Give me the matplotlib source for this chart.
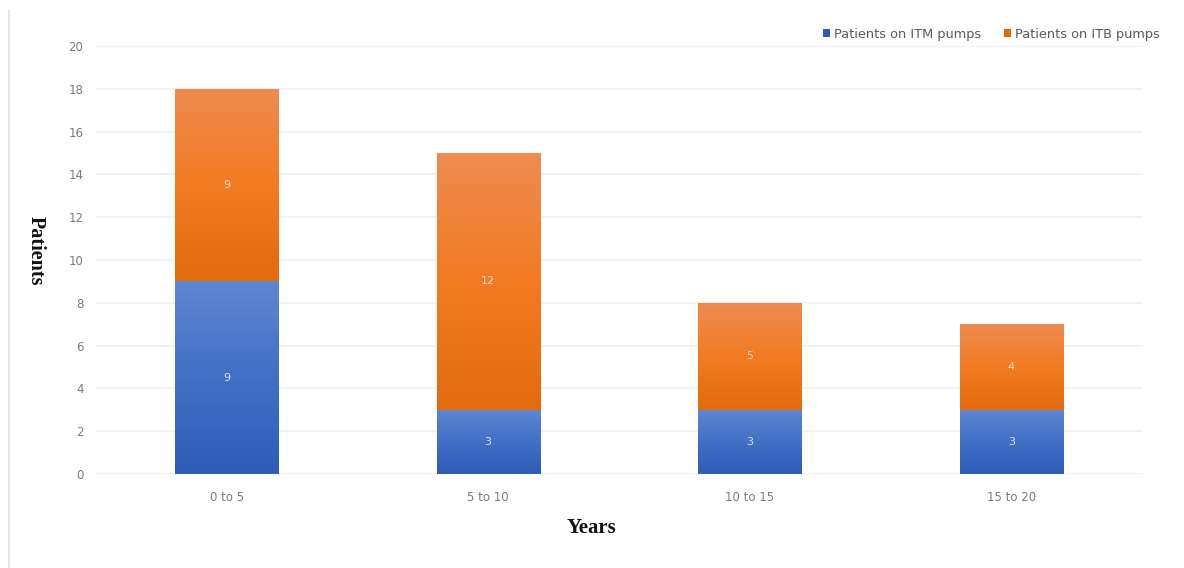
import numpy as np
import matplotlib.pyplot as plt
from matplotlib.colors import LinearSegmentedColormap
from matplotlib.lines import Line2D

# --- DATA ---
years = ['0 to 5', '5 to 10', '10 to 15', '15 to 20']
itm_pumps = [9, 3, 3, 3]
itb_pumps = [9, 12, 5, 4]
y_ticks = [0, 2, 4, 6, 8, 10, 12, 14, 16, 18, 20]

blue_stops = ['#2E5CB6', '#4270C6', '#5F86D0']
orange_stops = ['#E36B0E', '#F27B22', '#EE8B51']

fig = plt.figure(figsize=(11.84, 5.68), dpi=100)
ax = fig.add_axes([0.081, 0.1655, 0.8835, 0.7535])

x = np.arange(len(years))
width = 0.395


def gradient_fill(bars, stops):
    cmap = LinearSegmentedColormap.from_list('g', stops)
    grad = np.linspace(0, 1, 256).reshape(-1, 1)
    for b in bars:
        x0, y0 = b.get_x(), b.get_y()
        w, h = b.get_width(), b.get_height()
        im = ax.imshow(grad, cmap=cmap, origin='lower', aspect='auto',
                       extent=[x0, x0 + w, y0, y0 + h], zorder=3)
        im.set_clip_path(b)


bars1 = ax.bar(x, itm_pumps, width, color=blue_stops[0], zorder=2,
               label='Patients on ITM pumps')
bars2 = ax.bar(x, itb_pumps, width, bottom=itm_pumps, color=orange_stops[0], zorder=2,
               label='Patients on ITB pumps')
gradient_fill(bars1, blue_stops)
gradient_fill(bars2, orange_stops)

# value labels in the middle of each segment
for i in range(len(years)):
    ax.text(x[i], itm_pumps[i] / 2, str(itm_pumps[i]), ha='center', va='center',
            color='#D8E1F3', fontsize=8, zorder=4)
    ax.text(x[i], itm_pumps[i] + itb_pumps[i] / 2, str(itb_pumps[i]), ha='center',
            va='center', color='#FADFCB', fontsize=8, zorder=4)

ax.set_xlim(-0.5, len(years) - 0.5)
ax.set_ylim(0, 20)
ax.set_yticks(y_ticks)
ax.set_xticks(x)
ax.set_xticklabels(years)
ax.tick_params(axis='both', length=0, labelsize=8.5, colors='#7A7A7A')
ax.tick_params(axis='y', pad=9)
ax.tick_params(axis='x', pad=12)
ax.grid(axis='y', color='#EEF0F4', linewidth=1.2, zorder=0)
for s in ax.spines.values():
    s.set_visible(False)

ax.set_xlabel('Years', fontsize=15, fontweight='bold', family='Liberation Serif',
              color='#111111')
ax.xaxis.set_label_coords(0.474, -0.103)
ax.set_ylabel('Patients', fontsize=14.5, fontweight='bold', family='Liberation Serif',
              color='#111111', rotation=270, va='center')
ax.yaxis.set_label_coords(-0.0575, 0.521)

leg = ax.legend(loc='lower right', bbox_to_anchor=(1.028, 0.985), ncol=2, frameon=False,
                fontsize=9.3, handlelength=0.55, handleheight=0.55, handletextpad=0.3,
                columnspacing=1.8, labelcolor='#595959')

# thin frame line on the left of the image
fig.add_artist(Line2D([9 / 1184, 9 / 1184], [0, 1 - 11 / 568], color='#E1E6EE',
                      linewidth=1.5, transform=fig.transFigure))

plt.savefig('out.png', dpi=100)
plt.close()
